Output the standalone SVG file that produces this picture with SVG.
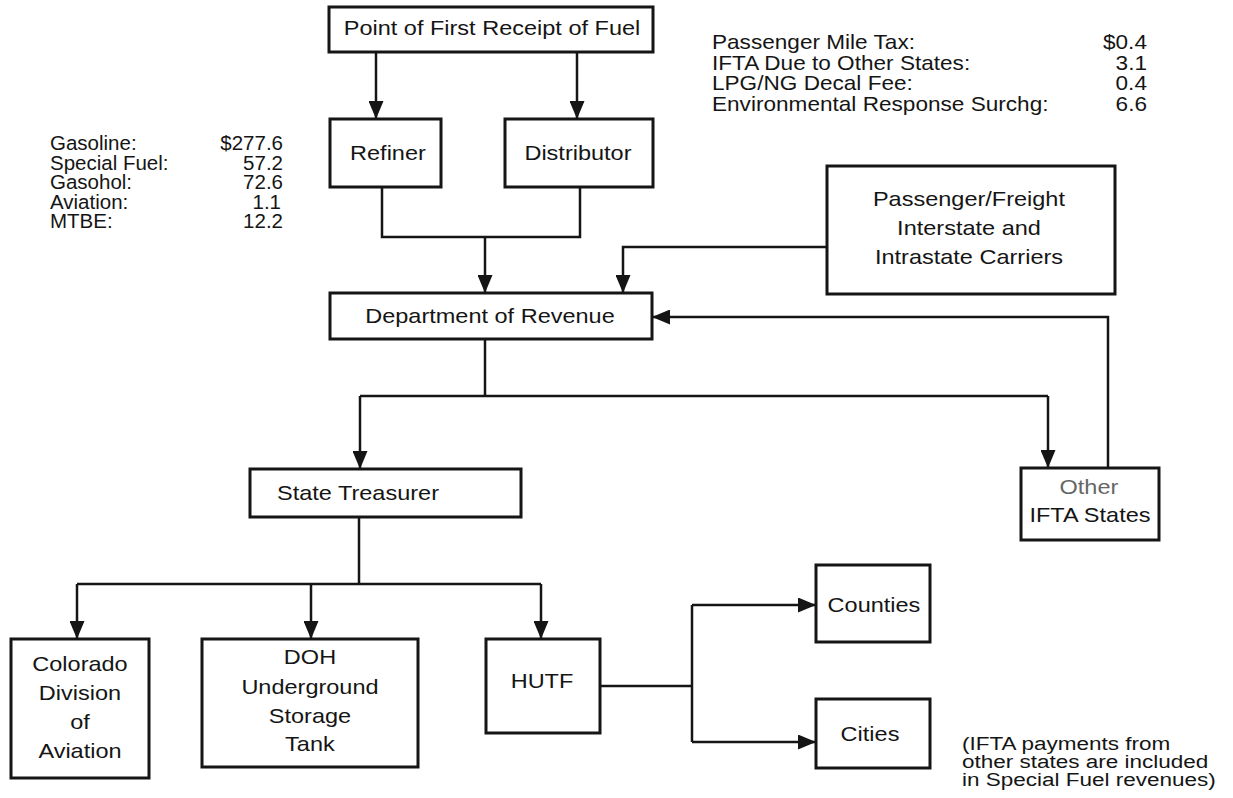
<svg xmlns="http://www.w3.org/2000/svg" width="1233" height="798" viewBox="0 0 1233 798">
<style>
.box{fill:#fff;stroke:#151515;stroke-width:3}
.ln{fill:none;stroke:#151515;stroke-width:2.5}
text{font-family:"Liberation Sans",Arial,sans-serif;fill:#151515}
.lbl{font-size:21px;text-anchor:middle;transform-box:fill-box;transform-origin:50% 50%;transform:scaleX(1.12)}
.fl{font-size:20.5px}
.r{text-anchor:end}
.ol{font-size:20px;transform-box:fill-box;transform-origin:0 50%;transform:scaleX(1.13)}
.or{font-size:20px;text-anchor:end;transform-box:fill-box;transform-origin:100% 50%;transform:scaleX(1.13)}
.nt{font-size:18px;transform-box:fill-box;transform-origin:0 50%;transform:scaleX(1.25)}
.gray{fill:#666}
</style>
<defs>
<marker id="ah" viewBox="0 0 18 15" refX="18" refY="7.5" markerWidth="18" markerHeight="15" markerUnits="userSpaceOnUse" orient="auto">
<path d="M0,0 L18,7.5 L0,15 z" fill="#151515"/>
</marker>
</defs>
<rect width="1233" height="798" fill="#fff"/>
<g id="connectors">
<path class="ln" d="M376,52 V119" marker-end="url(#ah)"/>
<path class="ln" d="M577,52 V119" marker-end="url(#ah)"/>
<path class="ln" d="M382,187 V237 H580 V187"/>
<path class="ln" d="M485,237 V293" marker-end="url(#ah)"/>
<path class="ln" d="M827,247 H623 V293" marker-end="url(#ah)"/>
<path class="ln" d="M1108,468 V317 H652" marker-end="url(#ah)"/>
<path class="ln" d="M485,339 V396"/>
<path class="ln" d="M360,396 H1048"/>
<path class="ln" d="M360,396 V469" marker-end="url(#ah)"/>
<path class="ln" d="M1048,396 V468" marker-end="url(#ah)"/>
<path class="ln" d="M359,517 V584"/>
<path class="ln" d="M77,584 H541"/>
<path class="ln" d="M77,584 V639" marker-end="url(#ah)"/>
<path class="ln" d="M311,584 V639" marker-end="url(#ah)"/>
<path class="ln" d="M541,584 V639" marker-end="url(#ah)"/>
<path class="ln" d="M600,686 H692"/>
<path class="ln" d="M692,605 V742"/>
<path class="ln" d="M692,605 H816" marker-end="url(#ah)"/>
<path class="ln" d="M692,742 H816" marker-end="url(#ah)"/>
</g>
<g id="point"><rect class="box" x="329" y="7" width="324" height="45"/><text class="lbl" x="492" y="35">Point of First Receipt of Fuel</text></g>
<g id="refiner"><rect class="box" x="330" y="119" width="111" height="68"/><text class="lbl" x="388" y="160">Refiner</text></g>
<g id="distributor"><rect class="box" x="505" y="119" width="148" height="68"/><text class="lbl" x="578" y="160">Distributor</text></g>
<g id="carriers"><rect class="box" x="827" y="166" width="288" height="128"/>
<text class="lbl" x="969" y="206">Passenger/Freight</text>
<text class="lbl" x="969" y="235">Interstate and</text>
<text class="lbl" x="969" y="264">Intrastate Carriers</text></g>
<g id="revenue"><rect class="box" x="330" y="293" width="322" height="46"/><text class="lbl" x="490" y="323">Department of Revenue</text></g>
<g id="treasurer"><rect class="box" x="250" y="469" width="271" height="48"/><text class="lbl" x="358" y="500">State Treasurer</text></g>
<g id="other"><rect class="box" x="1021" y="468" width="138" height="72"/>
<text class="lbl gray" x="1089" y="494">Other</text>
<text class="lbl" x="1090" y="522">IFTA States</text></g>
<g id="aviation"><rect class="box" x="11" y="639" width="138" height="139"/>
<text class="lbl" x="80" y="671">Colorado</text>
<text class="lbl" x="80" y="700">Division</text>
<text class="lbl" x="80" y="729">of</text>
<text class="lbl" x="80" y="758">Aviation</text></g>
<g id="doh"><rect class="box" x="202" y="639" width="216" height="128"/>
<text class="lbl" x="310" y="664">DOH</text>
<text class="lbl" x="310" y="694">Underground</text>
<text class="lbl" x="310" y="723">Storage</text>
<text class="lbl" x="310" y="751">Tank</text></g>
<g id="hutf"><rect class="box" x="486" y="639" width="114" height="94"/><text class="lbl" x="542" y="688">HUTF</text></g>
<g id="counties"><rect class="box" x="816" y="565" width="114" height="77"/><text class="lbl" x="874" y="612">Counties</text></g>
<g id="cities"><rect class="box" x="816" y="699" width="114" height="69"/><text class="lbl" x="870" y="741">Cities</text></g>
<g id="fuel-list">
<text class="fl" x="50" y="150">Gasoline:</text><text class="fl r" x="283" y="150">$277.6</text>
<text class="fl" x="50" y="169.5">Special Fuel:</text><text class="fl r" x="283" y="169.5">57.2</text>
<text class="fl" x="50" y="189">Gasohol:</text><text class="fl r" x="283" y="189">72.6</text>
<text class="fl" x="50" y="208.5">Aviation:</text><text class="fl r" x="281" y="208.5">1.1</text>
<text class="fl" x="50" y="228">MTBE:</text><text class="fl r" x="283" y="228">12.2</text>
</g>
<g id="other-list">
<text class="ol" x="712" y="49">Passenger Mile Tax:</text><text class="or" x="1147" y="49">$0.4</text>
<text class="ol" x="712" y="70">IFTA Due to Other States:</text><text class="or" x="1147" y="70">3.1</text>
<text class="ol" x="712" y="90">LPG/NG Decal Fee:</text><text class="or" x="1147" y="90">0.4</text>
<text class="ol" x="712" y="111">Environmental Response Surchg:</text><text class="or" x="1147" y="111">6.6</text>
</g>
<g id="note">
<text class="nt" x="962" y="750">(IFTA payments from</text>
<text class="nt" x="962" y="768">other states are included</text>
<text class="nt" x="962" y="786">in Special Fuel revenues)</text>
</g>
</svg>
